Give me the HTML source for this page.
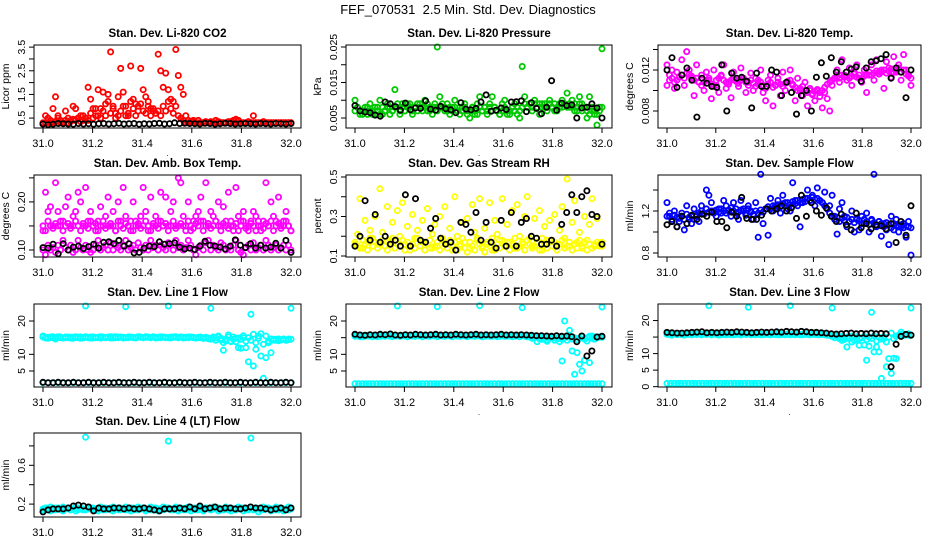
<!DOCTYPE html>
<html><head><meta charset="utf-8">
<style>
html,body{margin:0;padding:0;background:#fff;}
svg{display:block;font-family:"Liberation Sans",Arial,sans-serif;}
</style></head>
<body>
<svg id="chart" width="936" height="540" viewBox="0 0 936 540" xmlns="http://www.w3.org/2000/svg">
<rect width="936" height="540" fill="#fff"/>
<text x="468" y="14" text-anchor="middle" font-size="13">FEF_070531&#160; 2.5 Min. Std. Dev. Diagnostics</text>
</svg>
<script>
const xTicks=[31.0,31.2,31.4,31.6,31.8,32.0];
const xTickLabels=["31.0","31.2","31.4","31.6","31.8","32.0"];

const co2Red=[0.3,0.6,0.5,0.3,0.9,1.4,0.6,0.4,0.3,0.8,0.5,0.4,1.0,0.9,0.5,0.6,0.4,0.5,1.8,1.3,0.9,0.6,1.7,0.9,1.6,1.1,1.5,3.3,1.0,0.7,1.4,2.6,1.6,1.0,0.6,2.7,1.3,1.1,0.8,2.6,1.7,1.4,1.2,0.9,0.8,0.7,3.2,2.5,1.8,2.4,1.7,1.3,1.2,3.4,2.3,1.8,1.5,0.6,0.4,0.3,0.35,0.3,0.4,0.3,0.3,0.35,0.3,0.3,0.3,0.4,0.35,0.3,0.3,0.3,0.35,0.3,0.4,0.45,0.4,0.3,0.3,0.3,0.35,0.3,0.6,0.3,0.3,0.3,0.35,0.3,0.3,0.3,0.3,0.3,0.3,0.3,0.3,0.3,0.3,0.3];
const co2RedB=[0.25,0.3,0.3,0.4,0.3,0.35,0.5,0.3,0.3,0.4,0.3,0.35,0.45,0.4,0.5,0.35,0.6,0.5,0.4,0.7,0.5,0.9,0.6,0.5,0.8,0.6,1.2,0.7,0.9,0.5,0.6,0.8,1.0,0.6,0.7,1.2,0.9,0.6,1.0,1.1,0.8,0.7,1.0,0.6,0.9,0.7,0.8,0.6,1.0,0.8,1.2,0.9,0.7,1.0,0.6,0.5,0.4,0.3,0.3,0.35,0.4,0.3,0.3,0.3,0.3,0.3,0.3,0.35,0.3,0.3,0.3,0.3,0.3,0.3,0.3,0.35,0.3,0.3,0.3,0.3,0.3,0.3,0.3,0.3,0.3,0.3,0.3,0.3,0.3,0.3,0.3,0.3,0.3,0.3,0.3,0.3,0.3,0.3,0.3,0.3];
const co2Black=[0.25,0.22,0.24,0.27,0.26,0.25,0.24,0.27,0.25,0.26,0.24,0.26,0.27,0.25,0.26,0.28,0.25,0.26,0.27,0.24,0.26,0.25,0.27,0.28,0.25,0.26,0.3,0.27,0.28,0.27,0.26,0.25,0.28,0.27,0.24,0.26,0.28,0.27,0.25,0.26,0.27,0.26,0.25,0.27,0.26,0.25,0.27,0.26,0.25,0.27];

const presGreen=[0.010,0.008,0.006,0.007,0.008,0.006,0.009,0.007,0.006,0.008,0.010,0.006,0.007,0.009,0.008,0.007,0.013,0.008,0.006,0.009,0.007,0.008,0.009,0.006,0.008,0.007,0.009,0.008,0.010,0.007,0.008,0.006,0.009,0.025,0.011,0.008,0.007,0.009,0.006,0.008,0.010,0.007,0.006,0.008,0.009,0.007,0.005,0.008,0.006,0.009,0.011,0.007,0.008,0.006,0.009,0.011,0.008,0.007,0.006,0.009,0.010,0.007,0.006,0.008,0.009,0.006,0.005,0.0195,0.011,0.008,0.009,0.007,0.010,0.008,0.006,0.009,0.008,0.007,0.010,0.008,0.009,0.007,0.008,0.010,0.009,0.012,0.008,0.010,0.009,0.007,0.011,0.009,0.008,0.005,0.011,0.007,0.006,0.003,0.008,0.0245];
const presGreenB=[0.007,0.008,0.007,0.006,0.007,0.008,0.007,0.006,0.008,0.007,0.006,0.008,0.007,0.008,0.006,0.007,0.008,0.009,0.007,0.008,0.007,0.009,0.008,0.007,0.008,0.009,0.008,0.007,0.008,0.009,0.007,0.008,0.008,0.007,0.008,0.009,0.008,0.007,0.008,0.007,0.008,0.007,0.008,0.007,0.008,0.006,0.007,0.008,0.007,0.006,0.008,0.007,0.008,0.007,0.008,0.007,0.008,0.007,0.006,0.007,0.008,0.006,0.007,0.008,0.007,0.008,0.007,0.008,0.009,0.008,0.009,0.008,0.009,0.008,0.009,0.008,0.009,0.008,0.009,0.008,0.007,0.008,0.009,0.008,0.009,0.008,0.009,0.008,0.007,0.008,0.009,0.007,0.008,0.007,0.006,0.008,0.007,0.006,0.007,0.008];
const presBlack=[0.0085,0.007,0.0067,0.0065,0.0058,0.0055,0.0095,0.009,0.0082,0.0072,0.0092,0.0073,0.0078,0.0077,0.0098,0.0075,0.0072,0.0083,0.0076,0.0073,0.0065,0.0093,0.0075,0.0073,0.0077,0.0095,0.0115,0.0069,0.0072,0.0078,0.0074,0.0095,0.0096,0.0098,0.0068,0.0093,0.0077,0.0062,0.0080,0.0155,0.0072,0.0092,0.0085,0.0087,0.0050,0.0078,0.0080,0.0090,0.0078,0.0050];

const tempMag=[0.0125,0.0110,0.0120,0.0102,0.0118,0.0113,0.0130,0.0105,0.0138,0.0120,0.0112,0.0095,0.0125,0.0108,0.0115,0.0100,0.0118,0.0110,0.0092,0.0120,0.0105,0.0098,0.0115,0.0125,0.0102,0.0108,0.0093,0.0118,0.0110,0.0104,0.0122,0.0112,0.0098,0.0108,0.0117,0.0100,0.0112,0.0106,0.0120,0.0098,0.0090,0.0110,0.0115,0.0085,0.0105,0.0112,0.0095,0.0118,0.0100,0.0108,0.0120,0.0105,0.0090,0.0112,0.0100,0.0095,0.0108,0.0085,0.0102,0.0096,0.0090,0.0100,0.0094,0.0083,0.0098,0.0092,0.0080,0.0105,0.0112,0.0120,0.0108,0.0130,0.0115,0.0110,0.0122,0.0105,0.0118,0.0125,0.0112,0.0108,0.0120,0.0098,0.0115,0.0125,0.0110,0.0130,0.0118,0.0120,0.0102,0.0128,0.0122,0.0113,0.0133,0.0118,0.0125,0.0110,0.0135,0.0120,0.0115,0.0105];
const tempMagB=[0.0105,0.0115,0.0112,0.0108,0.0110,0.0113,0.0115,0.0112,0.0117,0.0116,0.0114,0.0110,0.0112,0.0108,0.0105,0.0108,0.0110,0.0112,0.0106,0.0104,0.0110,0.0112,0.0114,0.0110,0.0108,0.0106,0.0110,0.0112,0.0109,0.0107,0.0110,0.0112,0.0108,0.0105,0.0110,0.0107,0.0104,0.0110,0.0108,0.0105,0.0102,0.0106,0.0108,0.0103,0.0105,0.0108,0.0106,0.0104,0.0107,0.0109,0.0110,0.0106,0.0103,0.0100,0.0102,0.0104,0.0100,0.0098,0.0100,0.0097,0.0099,0.0101,0.0098,0.0100,0.0103,0.0106,0.0108,0.0110,0.0112,0.0114,0.0112,0.0115,0.0113,0.0110,0.0112,0.0114,0.0116,0.0113,0.0115,0.0112,0.0114,0.0116,0.0118,0.0115,0.0117,0.0119,0.0116,0.0118,0.0120,0.0117,0.0119,0.0121,0.0118,0.0120,0.0122,0.0118,0.0120,0.0116,0.0114,0.0112];
const tempBlack=[0.0120,0.0132,0.0103,0.0115,0.0122,0.0110,0.0074,0.0112,0.0107,0.0104,0.0103,0.0125,0.0080,0.0117,0.0112,0.0113,0.0109,0.0083,0.0117,0.0104,0.0104,0.0120,0.0118,0.0095,0.0108,0.0098,0.0077,0.0095,0.0100,0.0080,0.0113,0.0127,0.0114,0.0132,0.0118,0.0128,0.0118,0.0121,0.0123,0.0109,0.0122,0.0128,0.0129,0.0131,0.0135,0.0112,0.0122,0.0118,0.0093,0.0120];

const ambUpper=[0.14,0.22,0.18,0.19,0.15,0.24,0.18,0.15,0.16,0.19,0.21,0.15,0.17,0.18,0.22,0.20,0.15,0.23,0.16,0.18,0.15,0.14,0.16,0.19,0.15,0.17,0.21,0.15,0.18,0.14,0.20,0.16,0.23,0.17,0.15,0.14,0.20,0.16,0.15,0.17,0.23,0.18,0.14,0.21,0.15,0.17,0.16,0.22,0.15,0.21,0.15,0.18,0.20,0.15,0.25,0.24,0.17,0.15,0.20,0.14,0.16,0.17,0.18,0.21,0.16,0.24,0.15,0.18,0.17,0.16,0.20,0.15,0.19,0.16,0.22,0.15,0.14,0.23,0.17,0.16,0.18,0.15,0.14,0.16,0.18,0.17,0.15,0.14,0.16,0.24,0.15,0.20,0.17,0.16,0.21,0.15,0.16,0.18,0.15,0.14];
const ambMid=[0.15,0.14,0.16,0.15,0.145,0.155,0.15,0.16,0.14,0.15,0.155,0.145,0.15,0.16,0.15,0.14,0.155,0.15,0.145,0.16,0.15,0.155,0.14,0.15,0.16,0.145,0.15,0.155,0.15,0.14,0.16,0.15,0.145,0.155,0.15,0.16,0.14,0.15,0.155,0.145,0.15,0.16,0.15,0.14,0.155,0.15,0.145,0.16,0.15,0.155,0.14,0.15,0.16,0.145,0.15,0.155,0.15,0.14,0.16,0.15,0.145,0.155,0.15,0.16,0.14,0.15,0.155,0.145,0.15,0.16,0.15,0.14,0.155,0.15,0.145,0.16,0.15,0.155,0.14,0.15,0.16,0.145,0.15,0.155,0.15,0.14,0.16,0.15,0.145,0.155,0.15,0.16,0.14,0.15,0.155,0.145,0.15,0.16,0.15,0.14];
const ambLower=[0.10,0.09,0.11,0.10,0.105,0.095,0.11,0.10,0.12,0.105,0.10,0.11,0.095,0.10,0.12,0.105,0.10,0.11,0.10,0.095,0.10,0.11,0.12,0.10,0.105,0.11,0.10,0.115,0.10,0.11,0.105,0.10,0.11,0.12,0.10,0.105,0.11,0.10,0.115,0.105,0.10,0.11,0.10,0.12,0.105,0.11,0.10,0.11,0.105,0.10,0.115,0.11,0.10,0.12,0.105,0.11,0.10,0.105,0.12,0.11,0.10,0.09,0.105,0.11,0.10,0.115,0.12,0.10,0.11,0.105,0.10,0.115,0.11,0.10,0.105,0.10,0.11,0.12,0.10,0.095,0.09,0.105,0.11,0.10,0.115,0.10,0.105,0.11,0.10,0.12,0.11,0.10,0.105,0.11,0.10,0.105,0.11,0.10,0.11,0.10];
const ambBlack=[0.105,0.104,0.112,0.092,0.113,0.100,0.106,0.108,0.103,0.107,0.112,0.104,0.116,0.117,0.113,0.120,0.108,0.113,0.094,0.095,0.104,0.108,0.107,0.117,0.112,0.113,0.115,0.106,0.102,0.104,0.101,0.108,0.118,0.110,0.108,0.106,0.102,0.108,0.121,0.110,0.105,0.113,0.104,0.110,0.104,0.106,0.114,0.104,0.120,0.095];

const rhYellow=[0.16,0.21,0.39,0.14,0.28,0.17,0.23,0.19,0.30,0.16,0.44,0.22,0.15,0.35,0.18,0.27,0.14,0.33,0.20,0.37,0.16,0.25,0.13,0.31,0.19,0.23,0.15,0.28,0.17,0.34,0.14,0.21,0.26,0.15,0.30,0.18,0.35,0.16,0.24,0.13,0.40,0.20,0.15,0.27,0.17,0.29,0.14,0.36,0.22,0.19,0.39,0.15,0.24,0.16,0.37,0.13,0.28,0.21,0.18,0.39,0.15,0.26,0.17,0.33,0.14,0.36,0.20,0.16,0.30,0.40,0.19,0.15,0.29,0.17,0.33,0.13,0.25,0.18,0.28,0.15,0.31,0.16,0.23,0.35,0.19,0.49,0.15,0.27,0.38,0.17,0.22,0.14,0.30,0.18,0.26,0.39,0.16,0.29,0.15,0.17];
const rhYellowB=[0.17,0.15,0.14,0.18,0.16,0.13,0.19,0.15,0.17,0.14,0.16,0.18,0.15,0.13,0.17,0.19,0.14,0.16,0.15,0.18,0.13,0.17,0.15,0.16,0.14,0.19,0.15,0.17,0.13,0.16,0.18,0.14,0.15,0.17,0.13,0.19,0.16,0.14,0.18,0.15,0.17,0.13,0.16,0.19,0.14,0.12,0.17,0.15,0.13,0.18,0.16,0.14,0.12,0.17,0.15,0.19,0.13,0.16,0.14,0.18,0.15,0.17,0.13,0.16,0.19,0.14,0.15,0.17,0.13,0.18,0.16,0.14,0.15,0.17,0.13,0.19,0.16,0.14,0.18,0.15,0.17,0.13,0.16,0.18,0.14,0.15,0.17,0.13,0.16,0.14,0.18,0.15,0.17,0.13,0.16,0.14,0.15,0.17,0.16,0.15];
const rhBlack=[0.15,0.20,0.38,0.18,0.31,0.17,0.20,0.16,0.18,0.15,0.41,0.15,0.39,0.18,0.17,0.24,0.29,0.19,0.16,0.17,0.13,0.27,0.26,0.22,0.32,0.18,0.27,0.17,0.14,0.28,0.15,0.32,0.15,0.27,0.29,0.20,0.19,0.16,0.16,0.18,0.15,0.26,0.32,0.41,0.32,0.40,0.43,0.31,0.30,0.16];

const flowBlue=[1.28,1.15,1.10,1.20,1.05,1.13,1.18,1.02,1.25,1.12,1.08,1.22,1.15,1.10,1.25,1.18,1.40,1.35,1.28,1.20,1.15,1.22,1.18,1.30,1.25,1.20,1.15,1.28,1.18,1.12,1.30,1.22,1.16,1.25,1.20,1.12,1.28,0.95,1.55,1.08,1.22,0.97,1.32,1.20,1.25,1.30,1.18,1.35,1.28,1.22,1.20,1.47,1.30,1.25,1.05,1.28,1.32,1.40,1.30,1.35,1.25,1.42,1.30,1.28,1.38,1.22,1.25,1.35,1.15,0.98,1.22,1.28,1.15,1.05,1.10,1.20,1.00,1.12,1.02,1.15,1.08,1.18,1.00,1.12,1.55,1.05,1.10,0.96,1.08,1.02,0.88,1.15,1.02,1.12,1.00,1.05,1.08,0.95,1.10,0.78];
const flowBlueB=[1.15,1.18,1.12,1.16,1.14,1.10,1.15,1.12,1.17,1.14,1.15,1.12,1.16,1.18,1.20,1.17,1.22,1.19,1.20,1.18,1.21,1.19,1.22,1.20,1.18,1.21,1.23,1.20,1.22,1.19,1.21,1.20,1.18,1.22,1.19,1.17,1.20,1.18,1.21,1.19,1.22,1.24,1.22,1.25,1.23,1.26,1.24,1.27,1.25,1.28,1.26,1.29,1.27,1.30,1.28,1.31,1.29,1.32,1.30,1.33,1.31,1.32,1.30,1.28,1.25,1.22,1.18,1.15,1.12,1.14,1.10,1.13,1.11,1.14,1.10,1.12,1.09,1.13,1.11,1.08,1.12,1.10,1.07,1.11,1.09,1.06,1.10,1.08,1.05,1.09,1.07,1.04,1.08,1.06,1.05,1.07,1.04,1.06,1.05,1.04];
const flowBlack=[1.07,1.10,1.05,1.15,1.08,1.16,1.12,1.17,1.15,1.19,1.10,1.10,1.04,1.19,1.15,1.33,1.13,1.12,1.12,1.16,1.22,1.20,1.22,1.25,1.20,1.23,1.13,1.35,1.15,1.28,1.20,1.16,1.23,1.15,1.10,1.17,1.07,1.02,1.18,1.04,1.08,1.03,1.07,1.06,1.03,1.08,0.90,1.10,0.97,1.25];

const l1Cyan=[15.5,15,14.8,15.2,15,14.6,15.3,15,14.9,15.2,15,15.1,14.8,15.3,15,15.2,14.9,24.5,15,15.2,14.9,15.1,15,15.3,15.1,15,15.2,14.9,15.1,15.3,15,15.2,15.1,24.3,15,15.2,15.1,15,15.3,15.2,15,15.1,15.2,15,15.3,15.1,15,15.2,15.1,15,24.5,15.2,15.1,15.3,15,15.2,15.1,15,15.2,15.1,15,14.9,15.1,15,14.8,15,14.7,23.8,15.2,14.9,15.5,14.2,11.2,14.0,15.2,13.8,14.5,14.8,12.0,11.8,15.0,12.0,7.8,22.0,6.5,11.5,15.5,9.5,2.8,9.0,13.5,10.5,14.5,14.2,14.6,14.4,14.5,14.3,14.6,23.8];
const l1CyanB=[15.2,14.9,15.1,15,15.3,14.8,15.1,15.2,14.9,15,15.2,14.9,15.1,15,15.2,14.8,15.1,15.3,15,14.9,15.2,15,15.1,14.9,15.2,15,15.1,15.3,14.9,15,15.2,15.1,14.9,15,15.2,15.1,15,14.9,15.2,15.1,15,15.3,15.1,15,15.2,14.9,15.1,15,15.2,15.1,15,14.9,15.2,15.1,15,15.2,14.9,15.1,15,15.2,15.1,14.9,15,15.2,14.8,15.1,14.9,14.5,15.0,14.2,15.3,14.8,13.5,14.6,15.8,14.0,15.2,13.8,14.9,14.5,15.6,13.9,15.0,14.2,16.0,13.5,14.8,16.2,13.0,15.5,14.0,14.6,14.2,14.5,14.1,14.3,14.6,14.2,14.4,14.5];
const l1CyanLow=[1.5,1.5,1.5,1.5,1.5,1.5,1.5,1.5,1.5,1.5,1.5,1.5,1.5,1.5,1.5,1.5,1.5,1.5,1.5,1.5,1.5,1.5,1.5,1.5,1.5,1.5,1.5,1.5,1.5,1.5,1.5,1.5,1.5,1.5,1.5,1.5,1.5,1.5,1.5,1.5,1.5,1.5,1.5,1.5,1.5,1.5,1.5,1.5,1.5,1.5];
const l1Black=[1.6,1.5,1.5,1.6,1.5,1.5,1.6,1.5,1.5,1.6,1.5,1.5,1.6,1.5,1.5,1.6,1.5,1.5,1.6,1.5,1.5,1.6,1.5,1.5,1.6,1.5,1.5,1.6,1.5,1.5,1.6,1.5,1.5,1.6,1.5,1.5,1.6,1.5,1.5,1.6,1.5,1.5,1.6,1.5,1.5,1.6,1.5,1.5,1.6,1.5];

const l2Cyan=[15.8,15.5,15.3,15.6,15.4,15.7,15.5,15.3,15.6,15.5,15.4,15.6,15.5,15.7,15.4,15.6,15.5,24.5,15.4,15.6,15.5,15.3,15.6,15.5,15.4,15.6,15.5,15.4,15.6,15.5,15.4,15.6,15.5,24.3,15.6,15.5,15.4,15.6,15.5,15.4,15.6,15.5,15.4,15.6,15.5,15.4,15.6,15.5,15.4,15.6,24.6,15.5,15.4,15.6,15.5,15.4,15.6,15.5,15.4,15.6,15.5,15.4,15.6,15.5,15.4,15.6,15.3,24.0,15.4,15.3,15.2,14.8,15.5,13.8,15.0,14.5,15.2,13.9,14.8,15.1,14.2,15.0,13.8,8.0,20.0,15.2,17.2,11.0,4.0,10.5,7.0,5.0,8.2,14.0,7.5,15.5,14.5,15.0,15.3,24.2];
const l2CyanB=[15.4,15.6,15.5,15.3,15.6,15.5,15.4,15.6,15.5,15.3,15.6,15.5,15.4,15.6,15.5,15.3,15.6,15.5,15.4,15.6,15.5,15.3,15.6,15.5,15.4,15.6,15.5,15.3,15.6,15.5,15.4,15.6,15.5,15.3,15.6,15.5,15.4,15.6,15.5,15.3,15.6,15.5,15.4,15.6,15.5,15.3,15.6,15.5,15.4,15.6,15.5,15.3,15.6,15.5,15.4,15.6,15.5,15.3,15.6,15.5,15.4,15.6,15.5,15.3,15.6,15.5,15.4,15.6,15.5,15.3,15.6,15.5,15.0,15.2,14.6,15.4,14.9,14.4,15.3,14.8,15.0,14.6,15.2,14.5,15.0,14.2,15.3,14.6,15.0,14.4,14.8,15.2,14.6,15.0,15.4,14.8,15.2,15.0,15.2,15.1];
const l2CyanLow=[1.2,1.2,1.2,1.2,1.2,1.2,1.2,1.2,1.2,1.2,1.2,1.2,1.2,1.2,1.2,1.2,1.2,1.2,1.2,1.2,1.2,1.2,1.2,1.2,1.2,1.2,1.2,1.2,1.2,1.2,1.2,1.2,1.2,1.2,1.2,1.2,1.2,1.2,1.2,1.2,1.2,1.2,1.2,1.2,1.2,1.2,1.2,1.2,1.2,1.2,1.2,1.2,1.2,1.2,1.2,1.2,1.2,1.2,1.2,1.2,1.2,1.2,1.2,1.2,1.2,1.2,1.2,1.2,1.2,1.2];
const l2Black=[16.0,15.8,15.7,15.9,15.8,16.0,15.9,16.1,15.8,15.7,15.9,15.8,16.0,15.9,15.8,15.9,16.0,15.8,15.9,15.8,16.0,15.9,15.8,15.9,16.0,15.8,15.9,15.8,15.9,16.0,15.8,15.9,15.8,15.9,15.8,15.7,15.6,15.6,15.5,15.4,15.6,15.4,15.5,15.3,13.8,15.5,9.5,11.0,15.2,15.4];

const l3Cyan=[16.0,15.8,15.6,15.9,15.7,16.0,15.8,15.6,15.9,15.8,15.7,15.9,15.8,16.0,15.7,15.9,15.8,24.5,15.7,15.9,15.8,15.6,15.9,15.8,15.7,15.9,15.8,15.7,15.9,15.8,15.7,15.9,15.8,24.0,15.9,15.8,15.7,15.9,15.8,15.7,15.9,15.8,15.7,15.9,15.8,15.7,15.9,15.8,15.7,15.9,24.5,15.8,15.7,15.9,15.8,15.7,15.9,15.8,15.7,15.9,15.8,15.7,15.9,15.8,15.7,15.6,15.5,23.8,15.4,15.2,14.8,14.0,15.0,12.0,14.6,13.5,15.0,14.2,12.5,14.8,12.6,8.0,12.2,22.5,10.5,12.0,10.5,2.5,14.5,6.0,8.5,4.0,8.6,8.5,15.5,16.5,15.5,15.8,16.0,23.8];
const l3CyanB=[15.8,16.0,15.7,15.9,15.8,16.1,15.7,15.9,15.8,16.0,15.7,15.9,15.8,16.1,15.7,15.9,15.8,16.0,15.7,15.9,15.8,16.1,15.7,15.9,15.8,16.0,15.7,15.9,15.8,16.1,15.7,15.9,15.8,16.0,15.7,15.9,15.8,16.1,15.7,15.9,15.8,16.0,15.7,15.9,15.8,16.1,15.7,15.9,15.8,16.0,15.7,15.9,15.8,16.1,15.7,15.9,15.8,16.0,15.7,15.9,15.8,16.1,15.7,15.9,15.8,15.6,15.5,15.2,14.8,15.4,14.5,15.2,14.3,15.0,14.6,15.3,14.0,15.1,14.5,14.8,15.2,14.2,15.0,14.6,15.3,13.8,14.9,14.4,15.1,13.5,15.0,16.2,14.5,15.2,15.6,15.8,15.5,15.7,15.6,15.5];
const l3CyanLow=[1.0,1.0,1.0,1.0,1.0,1.0,1.0,1.0,1.0,1.0,1.0,1.0,1.0,1.0,1.0,1.0,1.0,1.0,1.0,1.0,1.0,1.0,1.0,1.0,1.0,1.0,1.0,1.0,1.0,1.0,1.0,1.0,1.0,1.0,1.0,1.0,1.0,1.0,1.0,1.0,1.0,1.0,1.0,1.0,1.0,1.0,1.0,1.0,1.0,1.0,1.0,1.0,1.0,1.0,1.0,1.0,1.0,1.0,1.0,1.0,1.0,1.0,1.0,1.0,1.0,1.0,1.0,1.0,1.0,1.0];
const l3Black=[16.4,16.3,16.2,16.2,16.3,16.4,16.5,16.6,16.3,16.4,16.3,16.4,16.5,16.4,16.6,16.5,16.4,16.3,16.4,16.5,16.4,16.5,16.6,16.5,16.7,16.6,16.5,16.7,16.6,16.4,16.4,16.3,16.2,16.0,15.9,16.0,16.1,16.2,16.0,16.1,16.0,16.2,16.0,16.1,16.0,6.0,12.8,15.2,15.8,15.6];

const l4Cyan=[0.15,0.14,0.16,0.13,0.15,0.14,0.16,0.15,0.13,0.15,0.16,0.14,0.15,0.13,0.16,0.15,0.14,0.89,0.15,0.16,0.14,0.15,0.13,0.16,0.15,0.14,0.15,0.16,0.13,0.15,0.14,0.16,0.15,0.14,0.15,0.13,0.16,0.15,0.14,0.15,0.16,0.13,0.15,0.14,0.16,0.15,0.13,0.15,0.14,0.16,0.85,0.15,0.14,0.16,0.13,0.15,0.14,0.16,0.15,0.13,0.15,0.16,0.14,0.15,0.13,0.16,0.15,0.14,0.15,0.16,0.13,0.15,0.14,0.16,0.15,0.13,0.15,0.14,0.16,0.15,0.13,0.15,0.14,0.88,0.15,0.16,0.12,0.15,0.14,0.16,0.15,0.13,0.15,0.14,0.16,0.15,0.13,0.15,0.14,0.16];
const l4CyanB=[0.14,0.16,0.15,0.17,0.14,0.16,0.15,0.14,0.17,0.15,0.16,0.14,0.15,0.17,0.14,0.16,0.15,0.14,0.17,0.15,0.16,0.14,0.15,0.17,0.14,0.16,0.15,0.14,0.17,0.15,0.16,0.14,0.15,0.17,0.14,0.16,0.15,0.14,0.17,0.15,0.16,0.14,0.15,0.17,0.14,0.16,0.15,0.14,0.17,0.15,0.16,0.14,0.15,0.17,0.14,0.16,0.15,0.14,0.17,0.15,0.16,0.14,0.15,0.17,0.14,0.16,0.15,0.14,0.17,0.15,0.16,0.14,0.15,0.17,0.14,0.16,0.15,0.14,0.17,0.15,0.16,0.14,0.15,0.17,0.14,0.16,0.15,0.14,0.17,0.15,0.16,0.14,0.15,0.17,0.14,0.16,0.15,0.14,0.17,0.15];
const l4Black=[0.12,0.14,0.15,0.15,0.15,0.16,0.18,0.19,0.18,0.17,0.13,0.16,0.15,0.15,0.16,0.16,0.15,0.16,0.15,0.15,0.16,0.15,0.14,0.13,0.15,0.15,0.15,0.16,0.15,0.17,0.15,0.18,0.15,0.16,0.17,0.15,0.16,0.16,0.15,0.15,0.16,0.17,0.16,0.16,0.15,0.14,0.15,0.16,0.14,0.16];

const yTicksCo2=[0.5,1.0,1.5,2.0,2.5,3.0,3.5];
const yLabelsCo2=["0.5","","1.5","","2.5","","3.5"];
const yTicksPres=[0.005,0.010,0.015,0.020,0.025];
const yLabelsPres=["0.005","","0.015","","0.025"];
const yTicksTemp=[0.008,0.010,0.012,0.014];
const yLabelsTemp=["0.008","","0.012",""];
const yTicksAmb=[0.10,0.15,0.20,0.25];
const yLabelsAmb=["0.10","","0.20",""];
const yTicksRh=[0.1,0.2,0.3,0.4,0.5];
const yLabelsRh=["0.1","","0.3","","0.5"];
const yTicksFlow=[0.8,1.0,1.2,1.4];
const yLabelsFlow=["0.8","","1.2",""];
const yTicksLine=[5,10,15,20];
const yLabelsLine=["5","10","","20"];
const yTicksLine3=[0,5,10,15,20];
const yLabelsLine3=["0","5","10","","20"];
const yTicksL4=[0.2,0.4,0.6,0.8];
const yLabelsL4=["0.2","","0.6",""];

const NS="http://www.w3.org/2000/svg";
const svg=document.getElementById('chart');
const cols=[[34,301],[346,612],[658,921]];
const rows=[[45,128],[175,257],[304,387],[433,517]];

const panels=[
 {c:0,r:0,title:"Stan. Dev. Li-820 CO2",ylab:"Licor ppm",dom:[0.08,3.59],yt:yTicksCo2,yl:yLabelsCo2,series:[[co2RedB,"#ff0000"],[co2Red,"#ff0000"],[co2Black,"#000"]]},
 {c:1,r:0,title:"Stan. Dev. Li-820 Pressure",ylab:"kPa",dom:[0.00218,0.02556],yt:yTicksPres,yl:yLabelsPres,series:[[presGreenB,"#00c800"],[presGreen,"#00c800"],[presBlack,"#000"]]},
 {c:2,r:0,title:"Stan. Dev. Li-820 Temp.",ylab:"degrees C",dom:[0.00634,0.01444],yt:yTicksTemp,yl:yLabelsTemp,series:[[tempMagB,"#ff00ff"],[tempMag,"#ff00ff"],[tempBlack,"#000"]]},
 {c:0,r:1,title:"Stan. Dev. Amb. Box Temp.",ylab:"degrees C",dom:[0.0854,0.256],yt:yTicksAmb,yl:yLabelsAmb,series:[[ambMid,"#ff00ff"],[ambUpper,"#ff00ff"],[ambLower,"#ff00ff"],[ambBlack,"#000"]]},
 {c:1,r:1,title:"Stan. Dev. Gas Stream RH",ylab:"percent",dom:[0.095,0.51],yt:yTicksRh,yl:yLabelsRh,series:[[rhYellowB,"#ffff00"],[rhYellow,"#ffff00"],[rhBlack,"#000"]]},
 {c:2,r:1,title:"Stan. Dev. Sample Flow",ylab:"ml/min",dom:[0.762,1.543],yt:yTicksFlow,yl:yLabelsFlow,series:[[flowBlueB,"#0000ff"],[flowBlue,"#0000ff"],[flowBlack,"#000"]]},
 {c:0,r:2,title:"Stan. Dev. Line 1 Flow",ylab:"ml/min",dom:[0.2,25.1],yt:yTicksLine,yl:yLabelsLine,series:[[l1CyanB,"#00ffff"],[l1Cyan,"#00ffff"],[l1CyanLow,"#00ffff"],[l1Black,"#000"]]},
 {c:1,r:2,title:"Stan. Dev. Line 2 Flow",ylab:"ml/min",dom:[0.2,25.1],yt:yTicksLine,yl:yLabelsLine,series:[[l2CyanB,"#00ffff"],[l2Cyan,"#00ffff"],[l2CyanLow,"#00ffff"],[l2Black,"#000"]]},
 {c:2,r:2,title:"Stan. Dev. Line 3 Flow",ylab:"ml/min",dom:[-0.1,25.0],yt:yTicksLine3,yl:yLabelsLine3,series:[[l3CyanB,"#00ffff"],[l3Cyan,"#00ffff"],[l3CyanLow,"#00ffff"],[l3Black,"#000"]]},
 {c:0,r:3,title:"Stan. Dev. Line 4 (LT) Flow",ylab:"ml/min",dom:[0.067,0.933],yt:yTicksL4,yl:yLabelsL4,series:[[l4CyanB,"#00ffff"],[l4Cyan,"#00ffff"],[l4Black,"#000"]]}
];

function mk(tag,attrs,parent){const e=document.createElementNS(NS,tag);for(const k in attrs)e.setAttribute(k,attrs[k]);(parent||svg).appendChild(e);return e;}

panels.forEach((p,pi)=>{
  const [L,R]=cols[p.c],[T,B]=rows[p.r];
  const x0=L+9,x1=R-10;
  const xs=v=>x0+(v-31)*(x1-x0);
  const ys=v=>B-(v-p.dom[0])/(p.dom[1]-p.dom[0])*(B-T);
  const g=mk('g',{});
  
  
  const t=mk('text',{x:(L+R)/2,y:T-8,'text-anchor':'middle','font-size':11.5,'font-weight':'bold'},g);
  t.textContent=p.title;
  
  
  const pg=mk('g',{fill:'none','stroke-width':1.8},g);
  
  
  p.series.forEach(([arr,col])=>{
    const n=arr.length;
    arr.forEach((v,i)=>{
      const c=mk('circle',{cx:xs(31+i/(n-1)).toFixed(1),cy:ys(v).toFixed(1),r:2.6,stroke:col},pg);
      
      
    });
  });
  const box=mk('rect',{x:L,y:T,width:R-L,height:B-T,fill:'none',stroke:'#000','stroke-width':1},g);
  
  
  const xa=mk('g',{},g);
  
  
  xTicks.forEach((v,i)=>{
    mk('line',{x1:xs(v),x2:xs(v),y1:B,y2:B+5,stroke:'#000'},xa);
    const tl=mk('text',{x:xs(v),y:B+19,'text-anchor':'middle','font-size':11},xa);
    tl.textContent=xTickLabels[i];
    
    
  });
  const dot=mk('text',{x:(L+R)/2,y:B+28,'text-anchor':'middle','font-size':8},xa);
  dot.textContent='.';
  
  
  const ya=mk('g',{},g);
  
  
  p.yt.forEach((v,i)=>{
    const y=ys(v);
    mk('line',{x1:L-5,x2:L,y1:y,y2:y,stroke:'#000'},ya);
    if(p.yl[i]){
      const tl=mk('text',{x:L-9,y:y,'text-anchor':'middle','font-size':10.5,transform:`rotate(-90 ${L-9} ${y})`},ya);
      tl.textContent=p.yl[i];
      
      
    }
  });
  const yt=mk('text',{x:L-25,y:(T+B)/2,'text-anchor':'middle','font-size':10.5,transform:`rotate(-90 ${L-25} ${(T+B)/2})`},ya);
  yt.textContent=p.ylab;
  
  
});
</script>
</body></html>
